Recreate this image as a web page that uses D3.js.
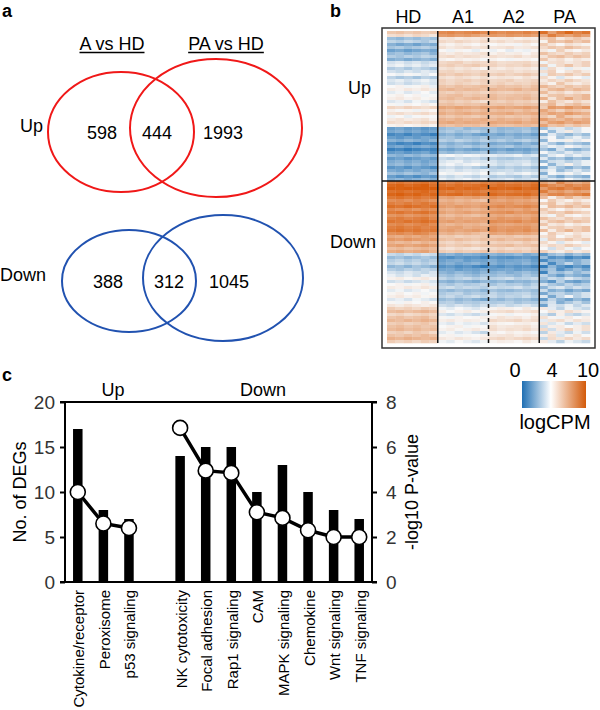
<!DOCTYPE html>
<html>
<head>
<meta charset="utf-8">
<script src="https://cdn.jsdelivr.net/npm/d3@7"></script>
<style>
  body { margin: 0; background: #fff; }
  svg text { font-family: "Liberation Sans", Arial, sans-serif; }
</style>
</head>
<body>
<div id="chart"></div>
<script>
// ---- panel a: Venn counts ----
var vennSets = ['A vs HD', 'PA vs HD'];
var upCounts = [598, 444, 1993];     // A only, shared, PA only
var downCounts = [388, 312, 1045];

// ---- panel b: heatmap (logCPM) ----
var hmGroups = ['HD', 'A1', 'A2', 'PA'];
var hmColsPerGroup = 6;
// each band: number of rows, mean logCPM for HD, A1, A2, PA
var upBands = [
    [2, 5.5, 8.0, 8.0, 8.2],
    [8, 2.2, 4.6, 4.4, 5.2],
    [7, 3.2, 5.2, 5.0, 4.6],
    [8, 4.0, 6.0, 6.0, 5.6],
    [7, 4.6, 6.6, 6.6, 6.6],
    [9, 1.2, 2.2, 2.0, 3.0],
    [9, 1.6, 3.4, 3.0, 2.8]
];
var downBands = [
    [5, 9.6, 9.2, 9.2, 8.0],
    [13, 8.6, 7.0, 7.6, 5.2],
    [6, 7.0, 5.6, 5.8, 4.6],
    [7, 2.6, 1.4, 1.4, 1.5],
    [11, 4.0, 2.6, 2.6, 2.4],
    [12, 6.0, 4.0, 4.6, 4.0]
];
// per-cell deviation (tiled over rows)
var cellDev = [
    [ .3, .5, .2, .4, .1, .3,  .2, .4, .1, .3, .5, .2,  .4, .1, .3, .2, .5, .1,  .6,-.4, .3, .8, .2, .5],
    [-.4,-.2,-.5,-.1,-.3,-.6, -.3,-.1,-.4,-.2,-.5,-.8, -.2,-.4,-.1,-.3,-.2,-.5, -.6, .3,-.2,-.5,-.1,-.4],
    [ .1,-.1, .2, 0, .3, .1,   .1, .2,-.1, .1, 0, .2,   0, .1, .2,-.1, .1, 0,    .2, .5,-.3, .1, .4, 0],
    [ .6, .4, .7, .5, .3, .6,  .5, .3, .6, .4, .2, .5,  .4, .6, .3, .5, .7, .4, -.5, .6, .4, .7, .3, .6],
    [-.2,-.5,-.3,-.6,-.2,-.4, -.1,-.3, 0,-.2,-.4,-.1,  -.3,-.1,-.2,-.4, 0,-.3,   .3,-.2,-.6,-.1,-.3,-.5],
    [ .2, .4, .1, .3, .5, .2,  .3, 0, .2, .4, .1, .3,   .2, .3, .5, .1, .2, .4,   0, .4, .2, .6, .3, .1],
    [-.6,-.4,-.7,-.5,-.3,-.5, -.4,-.6,-.3,-.5,-.7,-.4, -.5,-.3,-.6,-.4,-.5,-.2, -.3,-.7, .2,-.4,-.6,-.3],
    [ 0, .2,-.1, .1, .3,-.2,   .1,-.1, .2, 0, .1, .3,  -.1, .2, 0, .1,-.2, .2,   .5, .1,-.1, .3, 0, .2],
    [ .4, .2, .5, .3, .6, .4,  .3, .5, .2, .4, .3, .1,  .5, .3, .4, .6, .2, .4, -.2, .4, .6, .2, .5, .3],
    [-.3,-.1,-.4,-.2, 0,-.3,  -.2,-.4,-.1,-.3,-.2,-.5, -.1,-.3,-.4,-.2,-.1,-.3,  .4,-.3,-.1,-.5,-.2,-.4],
    [ .1, .3, 0, .2,-.1, .1,   0, .2, .3,-.1, .1, 0,    .3, 0, .1, .2, .3,-.1,  -.4, .2, .3, 0, .2, .5]
];
var legendTicks = [0, 4, 10];

// ---- panel c: KEGG pathways ----
var upPathways = ['Cytokine/receptor', 'Peroxisome', 'p53 signaling'];
var upDEGs = [17, 8, 7];
var upLogP = [4.0, 2.6, 2.4];
var downPathways = ['NK cytotoxicity', 'Focal adhesion', 'Rap1 signaling', 'CAM',
    'MAPK signaling', 'Chemokine', 'Wnt signaling', 'TNF signaling'];
var downDEGs = [14, 15, 15, 10, 13, 10, 8, 7];
var downLogP = [6.85, 4.95, 4.85, 3.1, 2.85, 2.3, 2.0, 2.0];
var degTicks = [0, 5, 10, 15, 20];
var pTicks = [0, 2, 4, 6, 8];

var svg = d3.select('#chart').append('svg')
    .attr('width', 600)
    .attr('height', 710);

function panelLabel(txt, x, y) {
    svg.append('text').attr('x', x).attr('y', y)
        .attr('font-size', 18).attr('font-weight', 'bold').text(txt);
}

// ================= panel a =================
panelLabel('a', 2, 17);

var titleX = [112, 226];
vennSets.forEach(function(t, i) {
    var tx = svg.append('text').attr('x', titleX[i]).attr('y', 50)
        .attr('text-anchor', 'middle').attr('font-size', 18).text(t);
    var w = tx.node().getComputedTextLength();
    svg.append('line')
        .attr('x1', titleX[i] - w / 2).attr('x2', titleX[i] + w / 2)
        .attr('y1', 52.5).attr('y2', 52.5)
        .attr('stroke', '#000').attr('stroke-width', 1.3);
});

function venn(counts, label, color, ell, numX, cy, labelX) {
    ell.forEach(function(e) {
        svg.append('ellipse')
            .attr('cx', e[0]).attr('cy', e[1]).attr('rx', e[2]).attr('ry', e[3])
            .attr('fill', 'none').attr('stroke', color).attr('stroke-width', 2);
    });
    counts.forEach(function(c, i) {
        svg.append('text').attr('x', numX[i]).attr('y', cy)
            .attr('text-anchor', 'middle').attr('dominant-baseline', 'central')
            .attr('font-size', 18).text(c);
    });
    svg.append('text').attr('x', labelX).attr('y', cy - 7)
        .attr('dominant-baseline', 'central').attr('font-size', 18).text(label);
}
venn(upCounts, 'Up', '#f01818', [[121, 132, 73, 60], [216, 128, 86, 69]], [102, 157, 223], 133, 20);
venn(downCounts, 'Down', '#2152b0', [[129, 281, 67, 51], [223, 278, 80, 63]], [108, 169, 229], 282, 0);

// ================= panel b =================
panelLabel('b', 330, 17);

var hmLeft = 387, hmRight = 590, hmTop = 31, hmBottom = 343;
var rows = [];
function addRows(bands, section) {
    bands.forEach(function(b) {
        for (var k = 0; k < b[0]; k++) {
            rows.push({section: section, means: b.slice(1)});
        }
    });
}
addRows(upBands, 'up');
addRows(downBands, 'down');

var nCols = hmGroups.length * hmColsPerGroup;
var colX = d3.scaleBand().domain(d3.range(nCols)).range([hmLeft, hmRight]);
var rowY = d3.scaleBand().domain(d3.range(rows.length)).range([hmTop, hmBottom]);
var devScale = [1.3, 1.3, 1.3, 1.9];
var hmColor = d3.scaleLinear().domain([0, 4, 10])
    .range(['#2171b5', '#f8f8f8', '#d95f0e']).clamp(true);

var cells = [];
rows.forEach(function(r, ri) {
    for (var c = 0; c < nCols; c++) {
        var g = Math.floor(c / hmColsPerGroup);
        cells.push({r: ri, c: c, v: r.means[g] + cellDev[ri % cellDev.length][c] * devScale[g]});
    }
});

svg.append('g').selectAll('rect').data(cells).enter().append('rect')
    .attr('x', function(d) { return colX(d.c); })
    .attr('y', function(d) { return rowY(d.r); })
    .attr('width', colX.bandwidth() + 0.3)
    .attr('height', rowY.bandwidth() + 0.3)
    .attr('fill', function(d) { return hmColor(d.v); });

// frame and dividers
svg.append('rect').attr('x', 382).attr('y', 28).attr('width', 213).attr('height', 320)
    .attr('fill', 'none').attr('stroke', '#333').attr('stroke-width', 1.5);
var splitY = rowY(upBands.reduce(function(s, b) { return s + b[0]; }, 0));
svg.append('line').attr('x1', 382).attr('x2', 595).attr('y1', splitY).attr('y2', splitY)
    .attr('stroke', '#111').attr('stroke-width', 1.6);
[1, 2, 3].forEach(function(g) {
    var x = colX(g * hmColsPerGroup);
    svg.append('line').attr('x1', x).attr('x2', x).attr('y1', hmTop).attr('y2', hmBottom)
        .attr('stroke', '#111').attr('stroke-width', 1.5)
        .attr('stroke-dasharray', g === 2 ? '4,3' : null);
});
hmGroups.forEach(function(g, i) {
    var cx = colX(i * hmColsPerGroup) + colX.bandwidth() * hmColsPerGroup / 2;
    svg.append('text').attr('x', cx - (i === 0 ? 4 : 0)).attr('y', 23)
        .attr('text-anchor', 'middle').attr('font-size', 18).text(g);
});
svg.append('text').attr('x', 348).attr('y', 88).attr('dominant-baseline', 'central')
    .attr('font-size', 18).text('Up');
svg.append('text').attr('x', 330).attr('y', 242).attr('dominant-baseline', 'central')
    .attr('font-size', 18).text('Down');

// colour key
var defs = svg.append('defs');
var grad = defs.append('linearGradient').attr('id', 'cpm-grad');
grad.append('stop').attr('offset', '0%').attr('stop-color', '#1f6fb3');
grad.append('stop').attr('offset', '45%').attr('stop-color', '#ffffff');
grad.append('stop').attr('offset', '100%').attr('stop-color', '#d35a0a');
svg.append('rect').attr('x', 522).attr('y', 381).attr('width', 64).attr('height', 27)
    .attr('fill', 'url(#cpm-grad)');
var keyX = d3.scaleLinear().domain(legendTicks).range([515, 552, 588]);
legendTicks.forEach(function(t) {
    svg.append('text').attr('x', keyX(t)).attr('y', 377)
        .attr('text-anchor', 'middle').attr('font-size', 20).text(t);
});
svg.append('text').attr('x', 555).attr('y', 429).attr('text-anchor', 'middle')
    .attr('font-size', 20).text('logCPM');

// ================= panel c =================
panelLabel('c', 2, 381);

var cLeft = 65, cRight = 372, cTop = 402, cBottom = 582;
var slots = d3.range(upPathways.length + 1 + downPathways.length);
var x = d3.scaleBand().domain(slots).range([cLeft, cRight]);
var yL = d3.scaleLinear().domain([0, 20]).range([cBottom, cTop]);
var yR = d3.scaleLinear().domain([0, 8]).range([cBottom, cTop]);

var upData = upPathways.map(function(p, i) {
    return {name: p, deg: upDEGs[i], p: upLogP[i], slot: i};
});
var downData = downPathways.map(function(p, i) {
    return {name: p, deg: downDEGs[i], p: downLogP[i], slot: upPathways.length + 1 + i};
});
var allData = upData.concat(downData);
function cx(d) { return x(d.slot) + x.bandwidth() / 2; }

var barW = 9.5;
svg.append('g').selectAll('rect').data(allData).enter().append('rect')
    .attr('x', function(d) { return cx(d) - barW / 2; })
    .attr('y', function(d) { return yL(d.deg); })
    .attr('width', barW)
    .attr('height', function(d) { return cBottom - yL(d.deg); })
    .attr('fill', '#000');

var axL = svg.append('g').attr('transform', 'translate(' + cLeft + ',0)')
    .call(d3.axisLeft(yL).tickValues(degTicks).tickSize(5).tickPadding(5));
var axR = svg.append('g').attr('transform', 'translate(' + cRight + ',0)')
    .call(d3.axisRight(yR).tickValues(pTicks).tickSize(5).tickPadding(9));
[axL, axR].forEach(function(ax) {
    ax.select('.domain').attr('stroke-width', 2).attr('d',
        ax === axL ? 'M-5,' + cTop + 'H0V' + cBottom + 'H-5' : 'M5,' + cTop + 'H0V' + cBottom + 'H5');
    ax.selectAll('.tick line').attr('stroke-width', 2);
    ax.selectAll('.tick text').attr('font-size', 19).attr('fill', '#333')
        .attr('font-family', '"Liberation Sans", Arial, sans-serif');
});
svg.append('line').attr('x1', cLeft).attr('x2', cRight).attr('y1', cTop).attr('y2', cTop)
    .attr('stroke', '#000').attr('stroke-width', 2);
svg.append('line').attr('x1', cLeft).attr('x2', cRight).attr('y1', cBottom).attr('y2', cBottom)
    .attr('stroke', '#000').attr('stroke-width', 2);

var line = d3.line().x(cx).y(function(d) { return yR(d.p); });
[upData, downData].forEach(function(grp) {
    svg.append('path').datum(grp).attr('d', line)
        .attr('fill', 'none').attr('stroke', '#000').attr('stroke-width', 3.5);
});
svg.append('g').selectAll('circle').data(allData).enter().append('circle')
    .attr('cx', cx).attr('cy', function(d) { return yR(d.p); })
    .attr('r', 7.5).attr('fill', '#fff').attr('stroke', '#000').attr('stroke-width', 1.6);

// pathway names
svg.append('g').selectAll('text').data(allData).enter().append('text')
    .attr('transform', function(d) { return 'translate(' + (cx(d) + 1) + ',590) rotate(-90)'; })
    .attr('text-anchor', 'end').attr('dominant-baseline', 'central')
    .attr('font-size', 15).text(function(d) { return d.name; });

svg.append('text').attr('x', 113).attr('y', 396).attr('text-anchor', 'middle')
    .attr('font-size', 18).text('Up');
svg.append('text').attr('x', 263).attr('y', 396).attr('text-anchor', 'middle')
    .attr('font-size', 18).text('Down');

svg.append('text').attr('transform', 'translate(20,' + ((cTop + cBottom) / 2) + ') rotate(-90)')
    .attr('text-anchor', 'middle').attr('dominant-baseline', 'central')
    .attr('font-size', 18).text('No. of DEGs');
svg.append('text').attr('transform', 'translate(412,' + ((cTop + cBottom) / 2) + ') rotate(-90)')
    .attr('text-anchor', 'middle').attr('dominant-baseline', 'central')
    .attr('font-size', 18).text('-log10 P-value');
</script>
</body>
</html>
